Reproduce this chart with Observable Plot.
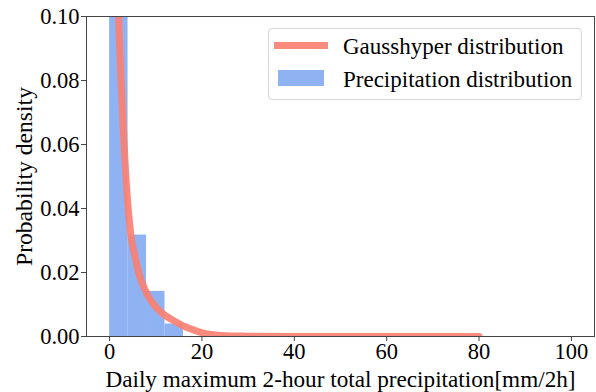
<!DOCTYPE html>
<html>
<head>
<meta charset="utf-8">
<script src="https://cdn.jsdelivr.net/npm/d3@7"></script>
<script src="https://cdn.jsdelivr.net/npm/@observablehq/plot@0.6"></script>
<style>
  html, body { margin: 0; padding: 0; background: #fff; }
  #wrap { position: relative; width: 596px; height: 392px; font-family: "Liberation Serif", "Times New Roman", serif; }
  #wrap svg, #wrap svg text { font-family: "Liberation Serif", "Times New Roman", serif !important; font-variant-numeric: normal !important; }
  .lg-box { position: absolute; left: 268px; top: 28px; width: 314px; height: 72px; border: 1px solid #d6d6d6; border-radius: 4px; background: rgba(255,255,255,0.8); box-sizing: border-box; }
  .lg-text { position: absolute; font-size: 23px; line-height: 23px; color: #000; white-space: nowrap; }
</style>
</head>
<body>
<div id="wrap"></div>
<script>
// Histogram bins (density)
const binStart = [0, 4, 8, 12];
const binEnd = [4, 8, 12, 16];
const binDensity = [0.199, 0.0317, 0.0141, 0.0039];

// Fitted Gausshyper pdf
const fitX = [1.2, 1.6, 1.95, 2.3, 2.7, 3.4, 4.5, 5.5, 6.5, 7.4, 8.8, 10.3, 12, 13.9, 15.7, 17.5, 19.7, 22, 25, 30, 40, 60, 80];
const fitY = [0.15, 0.12, 0.100, 0.086, 0.073, 0.053, 0.033, 0.025, 0.019, 0.0155, 0.0115, 0.0088, 0.0066, 0.0049, 0.0035, 0.0024, 0.0013, 0.0006, 0.0002, 0.0001, 0, 0, 0];

const xTicks = [0, 20, 40, 60, 80, 100];
const yTicks = [0.00, 0.02, 0.04, 0.06, 0.08, 0.10];

const legendLabels = ["Gausshyper distribution", "Precipitation distribution"];
const lineColor = "#fa8072";
const barColor = "#6495ed";

const bins = binStart.map((s, i) => ({x1: s, x2: binEnd[i], y: binDensity[i]}));
const fit = fitX.map((x, i) => ({x, y: fitY[i]}));

const serif = "Liberation Serif, Times New Roman, serif";

const chart = Plot.plot({
  width: 596,
  height: 392,
  marginLeft: 86,
  marginRight: 2,
  marginTop: 16,
  marginBottom: 56,
  style: {fontFamily: serif, fontSize: "23px", background: "#fff", color: "#000"},
  x: {domain: [-5, 105]},
  y: {domain: [0, 0.1]},
  marks: [
    Plot.rectY(bins, {x1: "x1", x2: "x2", y: "y", fill: barColor, fillOpacity: 0.72, clip: true}),
    Plot.line(fit, {x: "x", y: "y", stroke: lineColor, strokeOpacity: 0.92, strokeWidth: 7, curve: "monotone-x", clip: true}),
    Plot.axisX({ticks: xTicks, tickSize: 5, tickPadding: 2, tickFormat: d3.format("d"), fontFamily: serif, fontSize: 22.5, label: null, stroke: "#444"}),
    Plot.axisX({ticks: [], tickSize: 0, fontFamily: serif, fontSize: 23.2, label: "Daily maximum 2-hour total precipitation[mm/2h]", labelAnchor: "center", labelArrow: "none", labelOffset: 50, dx: -3}),
    Plot.axisY({ticks: yTicks, tickSize: 5, tickPadding: 2, tickFormat: d3.format(".2f"), fontFamily: serif, fontSize: 22.5, label: null, stroke: "#444"}),
    Plot.axisY({ticks: [], tickSize: 0, fontFamily: serif, fontSize: 23.6, label: "Probability density", labelAnchor: "center", labelArrow: "none", labelOffset: 71}),
    Plot.frame({stroke: "#444", strokeWidth: 1})
  ]
});

chart.querySelectorAll("text").forEach(t => t.setAttribute("font-family", serif));

const wrap = document.getElementById("wrap");
wrap.appendChild(chart);

// Legend overlay (inside the plot frame, top right)
const box = document.createElement("div");
box.className = "lg-box";
wrap.appendChild(box);

const sw1 = document.createElement("div");
Object.assign(sw1.style, {position: "absolute", left: "274px", top: "42px", width: "54px", height: "7px", background: lineColor, opacity: 0.92});
wrap.appendChild(sw1);

const sw2 = document.createElement("div");
Object.assign(sw2.style, {position: "absolute", left: "278px", top: "70px", width: "46px", height: "16px", background: barColor, opacity: 0.72});
wrap.appendChild(sw2);

legendLabels.forEach((t, i) => {
  const d = document.createElement("div");
  d.className = "lg-text";
  d.textContent = t;
  d.style.left = "343px";
  d.style.top = (i === 0 ? 34.7 : 67.7) + "px";
  wrap.appendChild(d);
});
</script>
</body>
</html>
